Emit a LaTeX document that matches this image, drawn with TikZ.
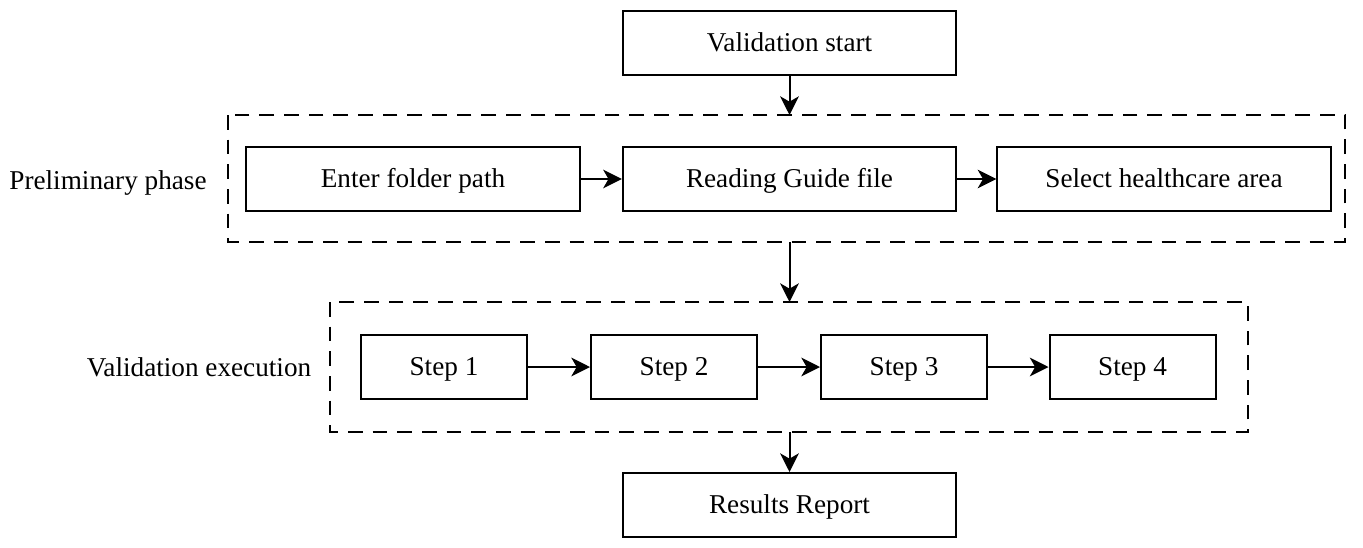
\documentclass[tikz,border=0pt]{standalone}
\usepackage{fontspec}
\setmainfont{Liberation Serif}
\usetikzlibrary{arrows.meta}
\begin{document}
\begin{tikzpicture}[x=0.75pt,y=-0.75pt,
  txt/.style={font=\fontsize{20.4}{24}\selectfont,text height=14pt,text depth=1pt},
  box/.style={draw,line width=1.5pt,inner sep=0pt,txt},
  bigbox/.style={box,minimum width=250pt,minimum height=48pt},
  stepbox/.style={box,minimum width=124.5pt,minimum height=48pt},
  phase/.style={draw,line width=1.5pt,dash pattern=on 11pt off 7.5pt},
  lbl/.style={txt,inner sep=0pt},
  arr/.style={line width=1.5pt,-{Stealth[length=14pt,width=14pt,inset=4pt]}}]
\useasboundingbox (0,0) rectangle (1363,547);
\node[bigbox] (start) at (789.5,43) {Validation start};
\draw[phase] (228,115) rectangle (1345,242);
\coordinate (p1top) at (789.5,115);
\coordinate (p1bot) at (789.5,242);
\node[lbl] (prelim) at (108,181) {Preliminary phase};
\node[bigbox] (enter) at (413,179) {Enter folder path};
\node[bigbox] (read) at (789.5,179) {Reading Guide file};
\node[bigbox] (sel) at (1164,179) {Select healthcare area};
\draw[phase] (330,302) rectangle (1248,432);
\coordinate (p2top) at (789.5,302);
\coordinate (p2bot) at (789.5,432);
\node[lbl] (exec) at (199,368) {Validation execution};
\node[stepbox] (s1) at (444,367) {Step 1};
\node[stepbox] (s2) at (674,367) {Step 2};
\node[stepbox] (s3) at (904,367) {Step 3};
\node[stepbox] (s4) at (1132.5,367) {Step 4};
\node[bigbox] (res) at (789.5,505) {Results Report};
\draw[arr] (start) -- (p1top);
\draw[arr] (enter) -- (read);
\draw[arr] (read) -- (sel);
\draw[arr] (p1bot) -- (p2top);
\draw[arr] (s1) -- (s2);
\draw[arr] (s2) -- (s3);
\draw[arr] (s3) -- (s4);
\draw[arr] (p2bot) -- (res);
\end{tikzpicture}
\end{document}
